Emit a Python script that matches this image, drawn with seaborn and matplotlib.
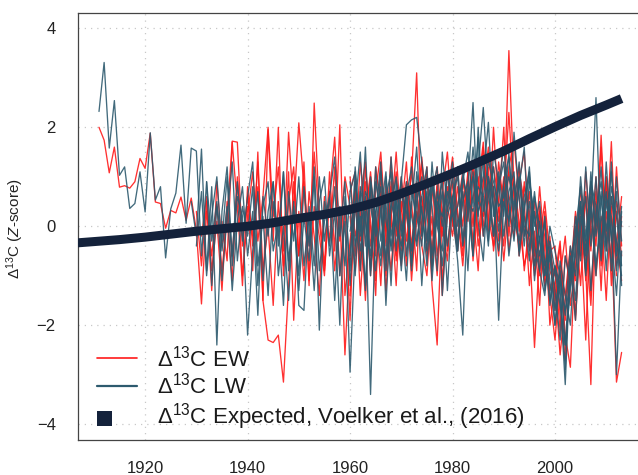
import numpy as np
import pandas as pd
import matplotlib
matplotlib.use("Agg")
import matplotlib.pyplot as plt
from matplotlib.lines import Line2D
from matplotlib.patches import Rectangle
from matplotlib.legend_handler import HandlerBase
import seaborn as sns

# ---------------------------------------------------------------------------
# Standardised Delta13C chronologies (Z-scores), one list per tree series.
# Each series is given as (first year, values for consecutive years).
# ---------------------------------------------------------------------------
ew_a_start = 1911
ew_a = [2.0, 1.74, 1.08, 1.6, 0.79, 0.82, 0.77, 0.9, 1.37, 1.17,
        1.88, 0.49, 0.46, -0.04, 0.32, 0.27, 0.59, 0.12, 0.57, -0.08,
        -1.57, 0.3, -0.6, 0.45, -0.9, 0.2, 1.72, 1.70, -0.4, 0.6,
        -0.2, 0.8, -1.5, 1.95, -0.3, 2.0, -1.0, 0.5, 1.2, -0.6,
        0.9, -1.2, 2.49, 0.3, -0.8, 1.1, -0.5, 2.05, -1.4, -0.3,
        0.6, -0.9, 1.2, 0.1, -1.1, 0.8, -0.2, 1.4, -0.7, 0.3,
        0.9, -0.4, 0.5, 1.3, -0.6, 0.2, -1.0, 0.7, 1.5, 0.1,
        -0.5, 0.9, 0.3, 1.2, -0.2, 0.8, 1.6, 0.4, -0.6, 0.7,
        1.1, 0.2, -0.4, 0.9, 0.1, -0.8, 0.3, -0.2, -1.3, -0.9,
        -2.1, -0.6, -1.2, 0.2, -0.5, 0.6, -1.4, 0.4, -0.3, 0.8,
        -0.9, 0.3, -0.6]

ew_b_start = 1930
ew_b = [0.3, -0.8, 0.5, -1.3, 0.9, -0.4, 0.2, -1.1, 1.0, -0.2,
        0.4, -0.9, 1.5, -1.5, -2.3, -2.35, -2.2, -3.15, -1.2, 0.9,
        -0.6, 1.3, -1.1, 0.4, -0.2, -1.0, 0.7, -0.9, 0.3, -2.6,
        -0.5, 0.8, -1.4, 0.2, 1.1, -0.3, 0.5, -1.0, 0.9, 0.0,
        -0.8, 0.4, 1.0, 3.1, -0.2, 0.6, -1.2, -2.4, 0.3, 0.8,
        0.1, 1.2, -0.4, 0.7, 0.3, -0.9, 1.0, 0.5, -0.1, 1.3,
        0.4, 3.55, 0.8, -0.6, 0.2, -0.3, -2.45, -0.5, -1.1, -0.2,
        -1.5, -0.8, -2.2, -2.85, -0.4, 0.1, -0.9, -3.2, 0.5, -0.6,
        0.9, -0.2, -3.15, -2.55]

ew_c_start = 1931
ew_c = [-0.2, 0.6, -0.9, 0.1, -1.3, 0.5, -0.6, 0.9, -1.0, 0.2,
        1.1, -0.3, 0.6, 2.0, 0.2, 1.2, -0.5, 1.9, 0.3, 2.09,
        0.8, -0.4, 1.5, 0.1, -0.9, 0.6, 1.8, -0.3, 1.0, 0.4,
        -0.6, 1.3, 0.2, -0.8, 0.7, 1.5, -0.1, 0.4, -1.2, 0.9,
        0.2, -0.5, 0.9, 0.3, 1.2, -0.7, 0.5, -0.2, 0.6, 1.4,
        0.3, -0.6, 1.1, 0.0, 0.8, 1.7, 0.2, -0.4, 1.0, 0.6,
        2.3, 0.5, 1.2, -0.2, 0.7, -0.6, 0.4, -0.9, -0.3, -1.7,
        -0.9, -1.4, -0.4, -1.8, 0.2, -0.7, 0.8, -0.1, 1.6, -0.5,
        0.4, -1.0]

ew_d_start = 1935
ew_d = [0.1, -0.7, 1.7, 0.4, -1.2, 0.8, -0.4, 1.3, -0.9, 0.0,
        -1.6, 0.5, -0.8, 1.1, -1.9, 0.3, -1.1, 0.7, -0.2, -1.4,
        0.6, -0.3, 1.2, -1.0, 0.4, -1.9, 0.9, -0.6, 0.3, 1.0,
        -0.4, 0.5, -1.3, 0.2, 1.1, -0.5, 0.7, -0.8, 0.1, 0.9,
        0.4, -0.2, 0.8, -1.1, 0.3, 1.0, -0.4, 0.5, 0.9, -0.3,
        0.6, 0.0, 1.2, -0.5, 0.4, 2.0, -0.2, 0.9, 0.1, -0.8,
        -0.3, 0.5, -1.0, 0.2, -2.0, -1.2, -0.4, -2.5, -1.0, 0.3,
        -0.6, 1.1, -0.2, 0.7, -1.3, 1.0, 0.1, -0.4, 0.6]

ew_e_start = 1960
ew_e = [0.2, -0.9, 0.6, 1.3, -0.4, 0.3, -1.2, 0.8, 0.1, -0.6,
        1.0, -0.3, 0.5, -0.9, 1.4, 0.2, -0.5, 0.9, -1.4, 0.4,
        -0.2, 0.8, 0.0, 1.1, -0.7, 0.5, 1.6, -0.1, 2.0, 0.3,
        -0.4, 1.2, 1.7, 0.6, -0.9, 0.1, -0.6, 0.8, -0.5, -1.4,
        -2.3, -1.0, -0.2, -1.6, -0.8, 0.4, -1.1, 0.2, -0.4, 1.84,
        -0.3, 1.71, -0.8, 0.2]

ew_f_start = 1960
ew_f = [-1.4, 0.5, -0.3, 0.9, -1.0, 1.2, 0.4, -0.7, 0.2, 1.5,
        -0.1, 0.7, -1.1, 0.3, 0.0, 1.1, -0.8, 0.4, 0.9, -0.5,
        0.6, -0.4, 0.7, 0.1, 1.3, 0.5, 0.2, 0.9, 0.8, -0.3,
        0.8, 0.3, -0.2, 1.1, 0.5, -1.2, -0.1, -1.6, 0.3, -0.9,
        -1.2, -2.6, -1.5, -0.6, -1.9, -0.1, -2.3, 0.5, -1.0, 0.2,
        -1.5, 0.6, -0.3, -1.1]

ew_g_start = 1960
ew_g = [1.0, -0.2, 0.3, -1.5, 0.7, -0.6, 1.0, 0.2, -0.9, 0.6,
        0.3, 1.3, -0.6, 0.8, -0.4, -1.0, 0.6, 1.2, 0.0, -0.7,
        0.9, 0.2, -0.8, 0.5, 1.0, -0.4, 0.3, 1.4, 0.7, 0.1,
        1.0, -0.5, 0.4, 0.9, 1.5, 0.0, -0.9, 0.2, -1.2, -0.5,
        -0.4, -1.8, -2.7, -0.9, 0.0, -1.2, 0.7, -0.5, 1.0, -0.8,
        0.3, -0.7, 1.2, -0.4]

ew_h_start = 1960
ew_h = [0.7, 1.1, -0.8, 0.4, 0.0, -1.4, 1.3, -0.4, 0.8, -0.2,
        0.5, -0.8, 1.4, 0.1, 0.6, -0.3, 1.0, -0.6, 0.2, 1.1,
        0.0, 0.4, 1.1, 0.3, 0.6, 1.0, -0.2, 0.7, 1.2, 0.5,
        -0.7, 0.5, 1.0, -0.1, 0.8, 0.3, -1.0, -0.3, 0.5, -0.6,
        -1.0, -0.3, -1.9, -0.5, -1.1, 0.8, -0.4, -1.6, 0.3, -0.2,
        1.0, -1.2, 0.5, 0.0]

lw_a_start = 1911
lw_a = [2.32, 3.31, 1.58, 2.54, 1.03, 1.2, 0.36, 0.46, 1.1, 0.29,
        1.89, 0.53, 0.8, -0.64, 0.35, 0.67, 1.64, 0.06, 1.58, 1.52,
        -0.6, 0.9, -1.2, 0.4, -0.3, 1.0, -0.8, 0.6, 0.2, -2.2,
        -0.5, 0.7, -1.1, 0.3, 0.9, -0.4, 1.1, -0.9, 0.4, -1.3,
        0.2, -0.7, 1.0, -2.1, 0.5, -0.4, 0.8, -1.0, 0.1, -2.95,
        -0.4, 0.7, -1.3, 0.9, 0.2, -0.6, 1.0, -0.2, 0.5, -0.9,
        0.6, 1.2, -0.3, 0.4, -0.8, 0.9, 0.0, -0.5, 1.1, 0.3,
        -0.7, -2.2, 0.6, 1.0, 0.2, 1.4, -0.3, 0.8, -1.9, 0.5,
        0.1, 0.9, -0.5, 0.3, 1.2, -0.4, -0.9, 0.2, -1.6, -0.8,
        -1.4, -3.2, -0.7, -0.2, 0.5, -0.9, 0.3, 2.6, -0.4, 0.6,
        0.2, -3.0, -0.5]

lw_b_start = 1929
lw_b = [0.5, -0.2, 1.56, -0.9, 0.8, -2.4, 0.3, 1.2, -0.6, 0.9,
        -0.3, 0.6, 1.3, -0.8, 0.2, -1.4, 0.5, -0.2, 1.1, -0.7,
        0.3, -1.0, 0.8, -0.4, 1.2, -0.9, 0.1, 0.6, -1.5, 0.4,
        -0.8, 0.7, 1.1, -0.5, 0.3, -3.4, 0.2, 1.3, -0.9, 0.5,
        0.0, 1.0, -0.6, 0.4, 1.6, -0.2, 0.7, -1.1, 0.3, 0.9,
        -0.4, 0.5, 1.2, -0.3, 0.8, 2.5, 0.1, -0.7, 1.0, 0.4,
        -0.5, 0.9, 1.4, 0.2, -0.3, 0.6, 1.1, -0.8, -0.2, -1.3,
        -0.6, -1.7, -0.9, -2.4, -1.3, -0.1, 0.8, -0.5, 0.4, -1.0,
        0.6, -0.4, 1.3, -0.9, 0.1]

lw_c_start = 1930
lw_c = [-0.4, 0.7, -1.0, 0.2, 1.0, -0.5, 0.4, -1.3, 0.1, 0.8,
        -0.6, 0.3, -1.8, 0.6, -0.2, 0.9, -1.0, 0.0, -1.5, 0.5,
        -1.6, -1.7, 0.4, -0.8, 1.0, -0.3, 0.6, 1.4, -0.2, 0.9,
        -1.2, 0.4, 1.5, -0.4, 0.8, -0.9, 0.3, 1.1, -0.5, 0.2,
        0.9, 2.05, 2.15, 2.2, 1.3, 0.5, -0.6, 0.7, 0.0, 1.1,
        0.3, -0.5, 0.9, 1.5, 0.4, 1.8, -0.2, 0.6, 1.2, -0.1,
        0.8, -0.6, 0.3, 1.0, -0.2, 0.5, -1.1, 0.1, -0.7, -1.5,
        -0.8, -1.2, -2.9, -0.6, -1.5, 0.2, -0.3, 0.9, 0.4, -0.7,
        0.5, -0.2, -1.4, 0.3]

lw_d_start = 1932
lw_d = [0.9, -0.3, 0.5, -1.1, 0.2, 1.3, -0.7, 0.4, -0.2, 0.8,
        -1.2, 0.4, 0.9, -0.5, 0.1, -1.6, 0.7, -0.3, 1.0, -0.8,
        0.2, -1.3, 0.5, 1.0, -0.6, 0.3, -2.0, 0.6, -0.9, 1.2,
        -0.1, 0.6, -1.0, 0.9, 0.3, -0.7, 1.4, 0.0, -0.4, 0.8,
        -0.8, 0.5, 1.0, -0.3, 0.7, 1.2, -1.4, 0.2, 0.6, -0.5,
        1.1, 0.4, -0.6, 2.0, 0.3, 1.0, -0.2, 0.8, 1.6, 0.5,
        -0.3, 0.9, 0.2, -0.7, 0.6, 0.0, -1.0, -0.5, -2.0, -1.1,
        -1.8, -0.4, -1.0, 0.4, -0.6, 1.1, -0.2, 0.7, -0.9, 0.6,
        -0.3, -1.0]

lw_e_start = 1960
lw_e = [0.4, -1.0, 0.8, 0.1, -0.6, 1.2, -0.3, 0.5, -1.2, 0.9,
        -0.2, 0.6, -0.9, 1.1, 0.3, -0.5, 1.3, 0.0, 0.7, -1.3,
        0.6, 1.0, -0.4, 0.3, 1.6, 0.5, 1.0, 2.1, 0.2, 0.8,
        1.3, 0.0, 1.9, 0.6, -0.4, 0.9, 0.2, -0.6, 0.1, -1.1,
        -2.0, -0.7, -1.4, -2.0, -0.3, 0.5, -1.0, 0.9, 0.0, 1.2,
        -0.5, 0.8, 0.2, -0.8]

lw_f_start = 1960
lw_f = [-0.6, 0.9, -0.2, 1.6, -0.9, 0.3, 0.8, -1.6, 0.4, 1.0,
        0.1, -1.1, 0.7, 0.2, -0.4, 1.0, 0.4, -0.9, 1.5, 0.3,
        1.0, -0.3, 0.5, 0.9, -0.6, 1.2, 2.4, 0.7, -0.2, 1.1,
        0.2, 1.5, -0.1, 0.8, 1.6, -0.5, 0.3, -0.9, -1.4, -0.4,
        -1.3, -2.3, -0.6, -1.1, 0.2, -0.7, 1.2, -0.4, 1.0, -0.6,
        1.3, -0.3, 0.7, -1.2]

lw_g_start = 1960
lw_g = [0.9, -0.4, 0.2, -1.2, 1.0, 0.0, -0.8, 0.6, 1.1, -0.5,
        0.7, 0.3, -0.5, 0.8, -1.2, 0.4, 0.9, 0.3, -0.8, 0.5,
        1.3, 0.0, 0.7, -0.9, 1.1, 0.3, 0.6, -0.4, 1.5, 0.9,
        -0.2, 0.7, 1.1, -0.6, 0.4, 1.0, 0.0, 0.5, -0.8, -0.3,
        -0.9, -1.6, -2.4, -0.8, -1.9, 0.0, 0.6, -1.3, 0.3, 0.9,
        -0.1, 1.1, -0.6, 0.4]

lw_h_start = 1960
lw_h = [-0.1, 0.5, -0.9, 0.7, 0.4, -0.2, 1.1, 0.1, -0.4, 0.6,
        -0.7, 0.9, 0.2, -0.4, 0.6, 1.2, -0.9, 0.5, 0.2, 0.7,
        0.2, 0.4, 1.0, 0.5, 0.3, 0.8, 0.6, 1.3, 0.9, 0.4,
        0.6, 1.0, 0.4, 1.3, 0.0, -0.2, 0.7, -0.3, -1.0, 0.0,
        -0.5, -1.0, -1.7, -1.2, -0.6, 1.0, -0.2, 0.6, -0.8, 0.1,
        0.7, -0.9, 1.0, -0.3]

# Expected Delta13C trend (Voelker et al., 2016), Z-score units
expected_years = [1905, 1910, 1915, 1920, 1925, 1930, 1935, 1940, 1945, 1950,
                  1955, 1960, 1965, 1970, 1975, 1980, 1985, 1990, 1995, 2000,
                  2005, 2010, 2013]
expected_z = [-0.35, -0.31, -0.27, -0.22, -0.16, -0.10, -0.05, 0.00, 0.07, 0.16,
              0.24, 0.34, 0.48, 0.66, 0.86, 1.07, 1.29, 1.52, 1.77, 2.01,
              2.24, 2.45, 2.58]

ew_series = {"EW a": (ew_a_start, ew_a), "EW b": (ew_b_start, ew_b),
             "EW c": (ew_c_start, ew_c), "EW d": (ew_d_start, ew_d),
             "EW e": (ew_e_start, ew_e), "EW f": (ew_f_start, ew_f),
             "EW g": (ew_g_start, ew_g), "EW h": (ew_h_start, ew_h)}
lw_series = {"LW a": (lw_a_start, lw_a), "LW b": (lw_b_start, lw_b),
             "LW c": (lw_c_start, lw_c), "LW d": (lw_d_start, lw_d),
             "LW e": (lw_e_start, lw_e), "LW f": (lw_f_start, lw_f),
             "LW g": (lw_g_start, lw_g), "LW h": (lw_h_start, lw_h)}


def to_long(series, wood):
    frames = []
    for name, (start, vals) in series.items():
        frames.append(pd.DataFrame({"year": start + np.arange(len(vals)),
                                    "z": vals, "series": name, "wood": wood}))
    return pd.concat(frames, ignore_index=True)


ew_df = to_long(ew_series, "EW")
lw_df = to_long(lw_series, "LW")
exp_df = pd.DataFrame({"year": expected_years, "z": expected_z})

RED = "#ff1a1a"
BLUE = "#2d5a6e"
NAVY = "#14223b"

sns.set_style("white")
plt.rcParams["font.family"] = ["Liberation Sans", "DejaVu Sans"]
plt.rcParams["mathtext.fontset"] = "custom"
plt.rcParams["mathtext.rm"] = "Liberation Sans"
plt.rcParams["mathtext.it"] = "Liberation Sans:italic"

fig = plt.figure(figsize=(6.38, 4.75), dpi=100)
ax = fig.add_axes([78 / 638, 1 - 440 / 475, 560 / 638, 427 / 475])

sns.lineplot(data=ew_df, x="year", y="z", units="series", estimator=None,
             color=RED, linewidth=0.95, alpha=0.9, legend=False, ax=ax)
sns.lineplot(data=lw_df, x="year", y="z", units="series", estimator=None,
             color=BLUE, linewidth=0.95, alpha=0.9, legend=False, ax=ax)
sns.lineplot(data=exp_df, x="year", y="z", color=NAVY, linewidth=6.5,
             legend=False, ax=ax, solid_capstyle="butt", zorder=5)

ax.set_xlim(1906.9, 2016.2)
ax.set_ylim(-4.32, 4.31)
ax.set_xticks([1920, 1940, 1960, 1980, 2000])
ax.set_yticks([-4, -2, 0, 2, 4])
ax.set_yticklabels(["\u22124", "\u22122", "0", "2", "4"])
ax.grid(True, linestyle=(0, (1, 4)), color="#c8c8c8", linewidth=0.9)
ax.set_axisbelow(True)

for side in ["left", "bottom", "top"]:
    ax.spines[side].set_color("#444444")
    ax.spines[side].set_linewidth(0.9)
ax.spines["right"].set_visible(False)

ax.tick_params(axis="both", direction="out", length=9, width=0.9,
               color="#444444", labelsize=12, labelcolor="#222222")
ax.tick_params(axis="y", pad=7)
ax.tick_params(axis="x", pad=6)

ax.set_xlabel("")
ax.set_ylabel("\u0394$^{13}$C ($\\it{Z}$-score)", fontsize=11, color="#222222")
ax.yaxis.set_label_coords(-0.092, 0.494)


class LeftSquare(HandlerBase):
    def create_artists(self, legend, orig_handle, xdescent, ydescent,
                       width, height, fontsize, trans):
        s = 15 * 72 / fig.dpi
        sq = Rectangle((-xdescent, -ydescent + height / 2 - s / 2 - 2), s, s,
                       facecolor=orig_handle.get_facecolor(), edgecolor="none",
                       transform=trans)
        return [sq]


handles = [Line2D([], [], color=RED, linewidth=1.2),
           Line2D([], [], color=BLUE, linewidth=1.6),
           Rectangle((0, 0), 1, 1, facecolor=NAVY)]
labels = ["\u0394$^{13}$C EW", "\u0394$^{13}$C LW",
          "\u0394$^{13}$C Expected, Voelker et al., (2016)"]
leg = ax.legend(handles, labels, loc="lower left",
                bbox_to_anchor=(19 / 560, 8.5 / 427), frameon=False,
                fontsize=16, handlelength=1.8, handletextpad=0.9,
                labelspacing=0.08, borderpad=0, borderaxespad=0,
                handler_map={Rectangle: LeftSquare()})
for t in leg.get_texts():
    t.set_color("#1a1a1a")

fig.savefig("out.png", dpi=100)
